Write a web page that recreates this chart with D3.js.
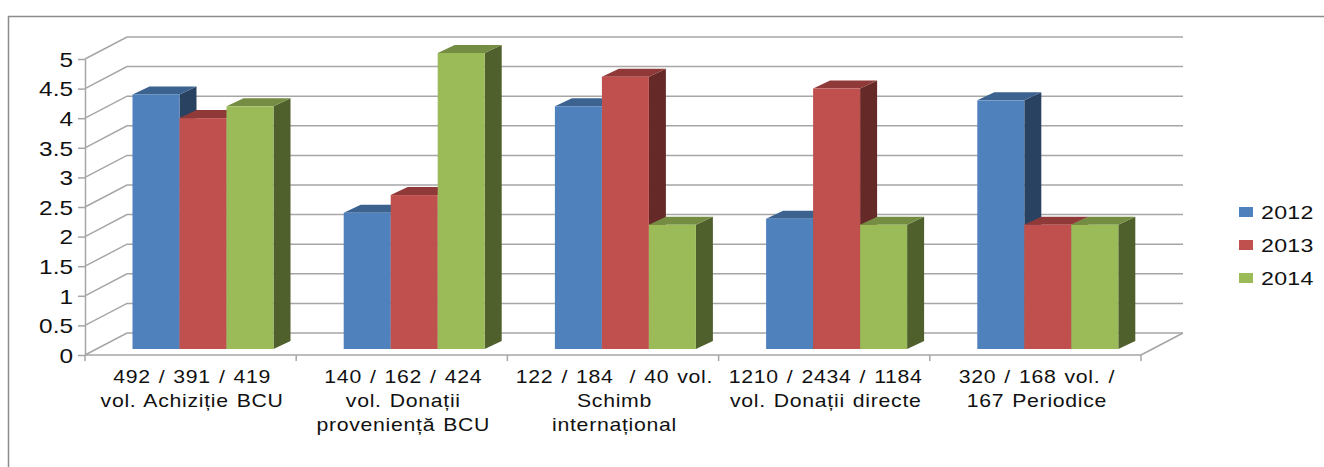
<!DOCTYPE html>
<html><head><meta charset="utf-8">
<script src="https://cdn.jsdelivr.net/npm/d3@7/dist/d3.min.js"></script>
<style>html,body{margin:0;padding:0;background:#fff}svg{display:block}text{font-family:"Liberation Sans",Arial,sans-serif;fill:#111;white-space:pre}</style>
</head><body><svg id="c" width="1324" height="467"></svg>
<script>
const categories=[
 ["492 / 391 / 419","vol. Achiziție BCU"],
 ["140 / 162 / 424","vol. Donații","proveniență BCU"],
 ["122 / 184  / 40 vol.","Schimb","internațional"],
 ["1210 / 2434 / 1184","vol. Donații directe"],
 ["320 / 168 vol. /","167 Periodice"]];
const seriesNames=["2012","2013","2014"];
const v2012=[4.3,2.3,4.1,2.2,4.2];
const v2013=[3.9,2.6,4.6,4.4,2.1];
const v2014=[4.1,5,2.1,2.1,2.1];
const yTicks=[0,0.5,1,1.5,2,2.5,3,3.5,4,4.5,5];
const front=["#4F81BD","#C0504D","#9BBB59"];
const top3=["#3C6290","#8F3A38","#758D43"];
const side=["#2A4262","#652A28","#4F602D"];

const values=[v2012,v2013,v2014];
const svg=d3.select("#c");
const grid="#a6a6a6";
const dx=42,dy=-22,bdx=17,bdy=-8;
const xL=85,xR=1141,y0=355,y5=59;
const y=d3.scaleLinear().domain([0,5]).range([y0,y5]);
const idx=d3.range(categories.length);
const x0=d3.scaleBand().domain(idx).range([xL,xR]);
const x1=d3.scaleBand().domain(d3.range(3)).range([47.5,188.5]);

svg.append("path").attr("d","M8.5,467V16.5H1324").attr("fill","none").attr("stroke","#8c8c8c").attr("stroke-width",1.5);

// walls
const g=svg.append("g").attr("fill","none").attr("stroke",grid).attr("stroke-width",1.5);
yTicks.forEach(t=>{
  g.append("path").attr("d",`M${xL},${y(t)}L${xL+dx},${y(t)+dy}H${xR+dx}`);
});
g.append("path").attr("d",`M${xR},${y0}L${xR+dx},${y0+dy}`);

// y axis
const ya=svg.append("g").attr("transform",`translate(${xL},0)`)
 .call(d3.axisLeft(y).tickValues(yTicks).tickFormat(d3.format("~g")).tickSize(7).tickSizeOuter(0).tickPadding(5));
ya.selectAll("path,line").attr("stroke",grid).attr("stroke-width",1.5);
ya.selectAll("text").attr("font-size",20).attr("font-family",'"Liberation Sans"').attr("fill","#111").attr("dy","0.36em")
  .attr("x",0).attr("transform",d=>`translate(-12,0) scale(1.22,1)`);

// x axis
const xa=svg.append("g").attr("transform",`translate(0,${y0})`);
xa.append("line").attr("x1",xL).attr("x2",xR).attr("stroke",grid).attr("stroke-width",1.5);
d3.range(categories.length+1).forEach(i=>{
  const px=i<categories.length?x0(i):xR;
  xa.append("line").attr("x1",px).attr("x2",px).attr("y2",6).attr("stroke",grid).attr("stroke-width",1.5);
});

// bars
const base=y0-6;
const h=v=>y0-y(v);
idx.forEach(i=>{
  seriesNames.forEach((s,k)=>{
    const v=values[k][i];
    const l=x0(i)+x1(k), w=x1.bandwidth(), r=l+w, t=base-h(v);
    svg.append("path").attr("fill",side[k]).attr("d",`M${r},${t}l${bdx},${bdy}V${base+bdy}L${r},${base}Z`);
    svg.append("path").attr("fill",top3[k]).attr("d",`M${l},${t}l${bdx},${bdy}H${r+bdx}L${r},${t}Z`);
    svg.append("rect").attr("fill",front[k]).attr("x",l).attr("y",t).attr("width",w).attr("height",h(v));
  });
  categories[i].forEach((line,j)=>{
    svg.append("text").attr("transform",`translate(${x0(i)+x0.bandwidth()/2+1.5},${382.5+j*24}) scale(1.18,1)`)
      .attr("text-anchor","middle").attr("font-size",18).attr("letter-spacing",0.6).attr("word-spacing",1.2).text(line);
  });
});

// legend
const ly=d3.scalePoint().domain(seriesNames).range([212,278]);
seriesNames.forEach((s,k)=>{
  svg.append("rect").attr("x",1239).attr("y",ly(s)-5).attr("width",14).attr("height",10).attr("fill",front[k]);
  svg.append("text").attr("transform",`translate(1261,${ly(s)+6.5}) scale(1.22,1)`).attr("font-size",19).attr("letter-spacing",0.2).text(s);
});
</script></body></html>
